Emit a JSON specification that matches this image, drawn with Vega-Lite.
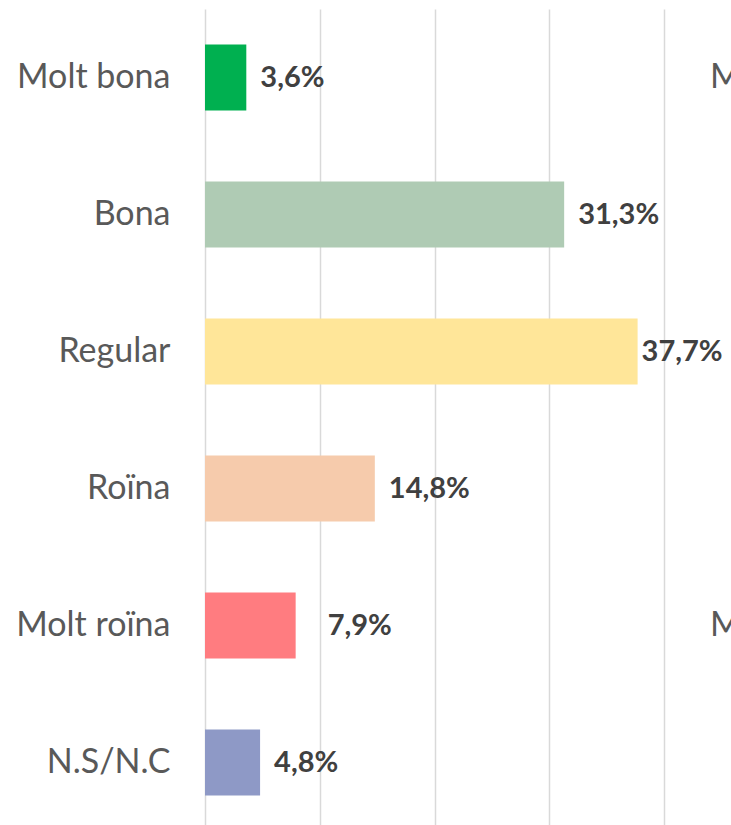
{
  "$schema": "https://vega.github.io/schema/vega-lite/v6.json",
  "autosize": {"type": "none"},
  "padding": {"left": 205, "top": 9, "right": 67, "bottom": 0},
  "width": 459,
  "height": 822,
  "background": "white",
  "config": {"view": {"stroke": null}, "font": "Lato"},
  "data": {"values": [
    {"cat": "Molt bona", "pct": 3.6, "label": "3,6%"},
    {"cat": "Bona", "pct": 31.3, "label": "31,3%"},
    {"cat": "Regular", "pct": 37.7, "label": "37,7%"},
    {"cat": "Roïna", "pct": 14.8, "label": "14,8%"},
    {"cat": "Molt roïna", "pct": 7.9, "label": "7,9%"},
    {"cat": "N.S/N.C", "pct": 4.8, "label": "4,8%"}
  ]},
  "encoding": {
    "y": {"field": "cat", "type": "nominal", "sort": null,
      "scale": {"domain": ["Molt bona", "Bona", "Regular", "Roïna", "Molt roïna", "N.S/N.C"], "paddingInner": 0.52, "paddingOuter": 0.26},
      "axis": {"title": null, "domain": false, "ticks": false, "labelFontSize": 34, "labelColor": "#595959", "labelPadding": 35, "labelFont": "Lato", "labelLimit": 300}},
    "x": {"field": "pct", "type": "quantitative",
      "scale": {"domain": [0, 40], "nice": false},
      "axis": {"title": null, "domain": false, "ticks": false, "labels": false, "values": [0, 10, 20, 30, 40], "gridColor": "#d9d9d9", "gridWidth": 1.5}}
  },
  "layer": [
    {"mark": {"type": "bar"},
     "encoding": {"color": {"field": "cat", "type": "nominal", "legend": null,
       "scale": {"domain": ["Molt bona", "Bona", "Regular", "Roïna", "Molt roïna", "N.S/N.C"],
                 "range": ["#00b050", "#afcbb4", "#ffe699", "#f6cbac", "#ff7c80", "#8e99c6"]}}}},
    {"transform": [{"filter": "datum.cat !== 'Regular' && datum.cat !== 'Molt roïna'"}],
     "mark": {"type": "text", "align": "left", "dx": 14, "fontSize": 29, "fontWeight": "bold", "color": "#404040", "font": "Lato"},
     "encoding": {"text": {"field": "label"}}},
    {"transform": [{"filter": "datum.cat === 'Regular'"}],
     "mark": {"type": "text", "align": "left", "dx": 4, "fontSize": 29, "fontWeight": "bold", "color": "#404040", "font": "Lato"},
     "encoding": {"text": {"field": "label"}}},
    {"transform": [{"filter": "datum.cat === 'Molt roïna'"}],
     "mark": {"type": "text", "align": "left", "dx": 32, "fontSize": 29, "fontWeight": "bold", "color": "#404040", "font": "Lato"},
     "encoding": {"text": {"field": "label"}}},
    {"transform": [{"filter": "datum.cat === 'Molt bona' || datum.cat === 'Molt roïna'"}],
     "mark": {"type": "text", "align": "left", "fontSize": 34, "color": "#595959", "font": "Lato"},
     "encoding": {"x": {"datum": 44}, "text": {"field": "cat"}}}
  ]
}
